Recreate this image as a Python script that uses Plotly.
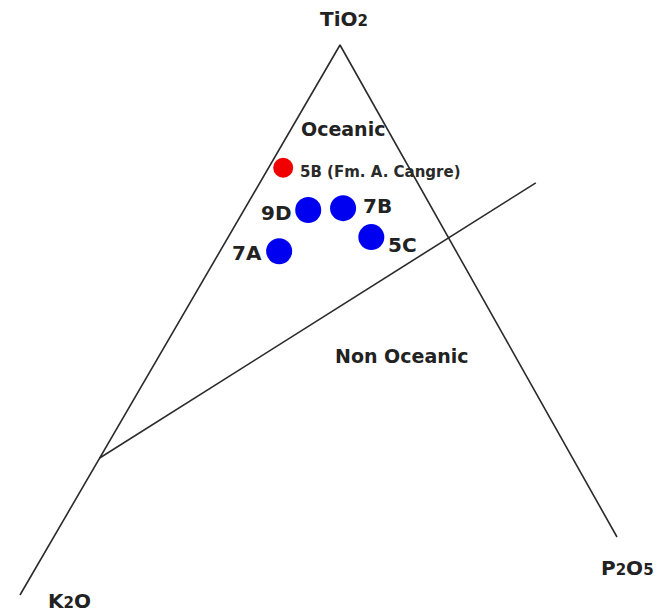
import plotly.graph_objects as go

# Sample compositions (fractions of TiO2, K2O, P2O5)
samples = ["5B", "9D", "7B", "5C", "7A"]
tio2 = [0.774, 0.688, 0.685, 0.624, 0.614]
k2o = [0.200, 0.198, 0.141, 0.122, 0.281]
p2o5 = [0.026, 0.114, 0.174, 0.254, 0.105]
groups = ["Fm. A. Cangre", "other", "other", "other", "other"]

# Oceanic / non-oceanic boundary: ends on the TiO2-K2O and TiO2-P2O5 edges
boundary_left = (0.249, 0.751, 0.0)
boundary_right = (0.608, 0.0, 0.392)
boundary_extend = 1.25

# Triangle corners in plot units (TiO2 top, K2O lower left, P2O5 lower right)
V_T = (340, 45)
V_K = (20, 595)
V_P = (617, 537)


def project(t, k, p):
    s = t + k + p
    x = (t * V_T[0] + k * V_K[0] + p * V_P[0]) / s
    y = (t * V_T[1] + k * V_K[1] + p * V_P[1]) / s
    return x, y


LINE = dict(color="#2b2b2b", width=1.6)
fig = go.Figure()

# Open triangle: the two edges meeting at TiO2
ex = [V_K[0], V_T[0], V_P[0]]
ey = [V_K[1], V_T[1], V_P[1]]
fig.add_trace(go.Scatter(x=ex, y=ey, mode="lines", line=LINE, hoverinfo="skip"))

# Discrimination line
lx0, ly0 = project(*boundary_left)
lx1, ly1 = project(*boundary_right)
lx2 = lx0 + (lx1 - lx0) * boundary_extend
ly2 = ly0 + (ly1 - ly0) * boundary_extend
fig.add_trace(go.Scatter(x=[lx0, lx2], y=[ly0, ly2], mode="lines", line=LINE,
                         hoverinfo="skip"))

pts = [project(t, k, p) for t, k, p in zip(tio2, k2o, p2o5)]
px = [q[0] for q in pts]
py = [q[1] for q in pts]

red = [i for i, g in enumerate(groups) if g != "other"]
blue = [i for i, g in enumerate(groups) if g == "other"]

fig.add_trace(go.Scatter(x=[px[i] for i in blue], y=[py[i] for i in blue],
                         mode="markers",
                         marker=dict(size=26, color="#0000f0", line=dict(width=0))))
fig.add_trace(go.Scatter(x=[px[i] for i in red], y=[py[i] for i in red],
                         mode="markers",
                         marker=dict(size=20, color="#f00000", line=dict(width=0))))

FONT = dict(family="DejaVu Sans", size=19, color="#222222")
BIG = dict(family="DejaVu Sans", size=20, color="#222222")
SMALL = dict(family="DejaVu Sans", size=15, color="#2a2a2a")

annotations = []


def label(text, x, y, xanchor="center", font=FONT):
    annotations.append(dict(text=text, x=x, y=y, xref="x", yref="y",
                            xanchor=xanchor, yanchor="middle",
                            showarrow=False, font=font))


# Sample labels, offset from their markers
label("<b>5B (Fm. A. Cangre)</b>", px[0] + 15, py[0] + 4, "left", SMALL)
label("<b>9D</b>", px[1] - 14, py[1] + 3, "right", BIG)
label("<b>7B</b>", px[2] + 18, py[2] - 2, "left", BIG)
label("<b>5C</b>", px[3] + 15, py[3] + 8, "left", BIG)
label("<b>7A</b>", px[4] - 15, py[4] + 2, "right", BIG)

# Field names
label("<b>Oceanic</b>", 343, 129)
label("<b>Non Oceanic</b>", 402, 356)

# Corner labels
SUB = '<span style="font-size:15px">%s</span>'
label("<b>TiO" + SUB % "2" + "</b>", 344, 19, font=BIG)
label("<b>K" + SUB % "2" + "O</b>", 69, 601, font=BIG)
label("<b>P" + SUB % "2" + "O" + SUB % "5" + "</b>", 627, 568, font=BIG)

fig.update_layout(
    width=661, height=614,
    margin=dict(l=0, r=0, t=0, b=0),
    paper_bgcolor="white", plot_bgcolor="white",
    showlegend=False,
    xaxis=dict(range=[0, 661], visible=False, fixedrange=True),
    yaxis=dict(range=[614, 0], visible=False, fixedrange=True),
    annotations=annotations,
)

fig.write_html("out.html")
